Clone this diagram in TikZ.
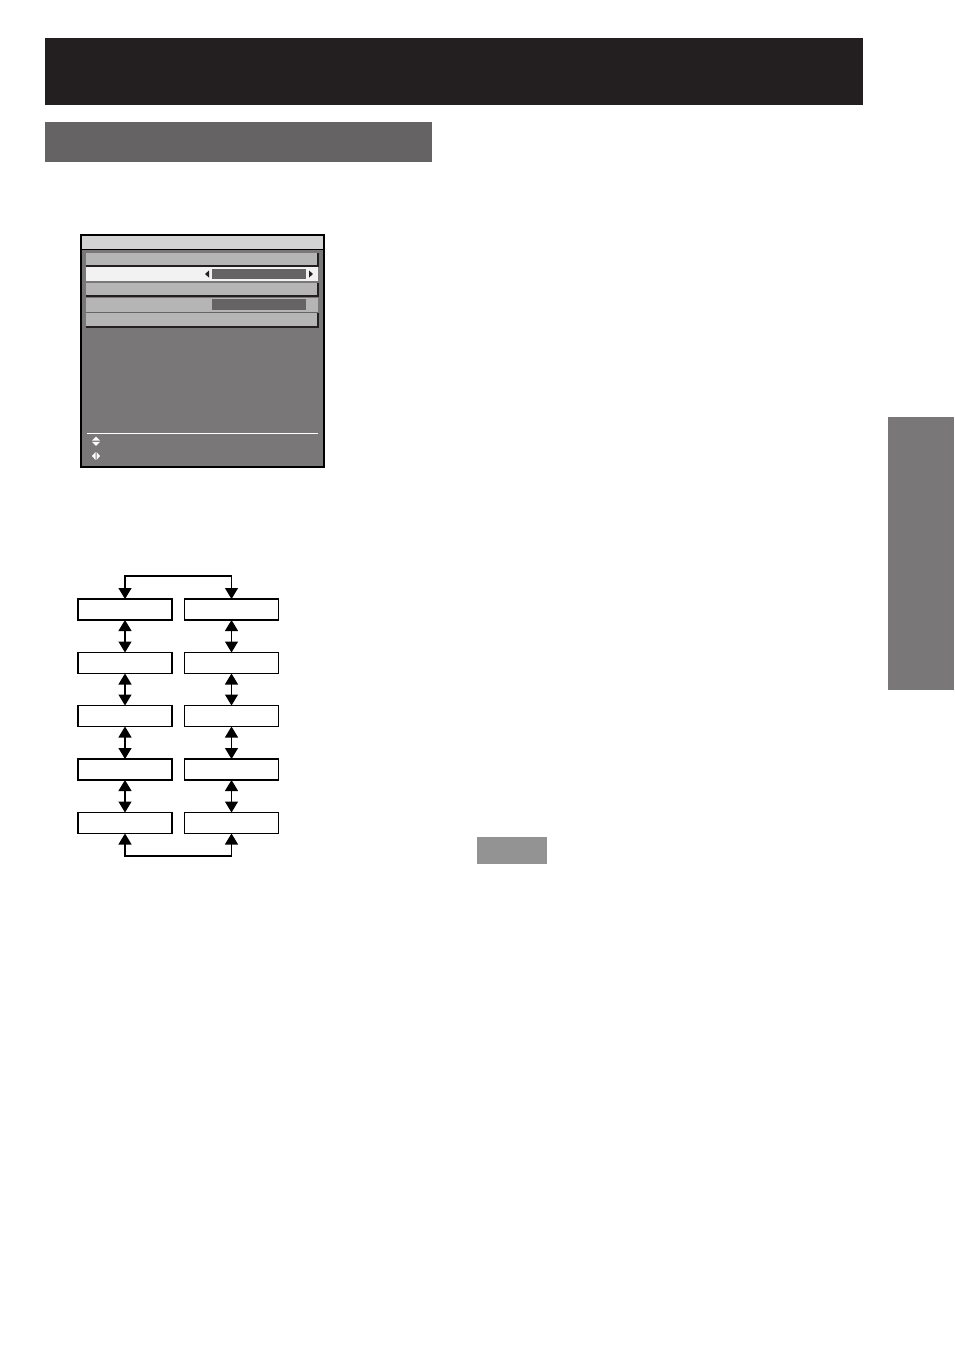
\documentclass[tikz,border=0pt]{standalone}
\usetikzlibrary{arrows.meta}
\definecolor{hdrblack}{HTML}{231F20}
\definecolor{secgray}{HTML}{656364}
\definecolor{tabgray}{HTML}{7A7778}
\definecolor{notegray}{HTML}{939393}
\definecolor{titlegray}{HTML}{D3D3D3}
\definecolor{rowgray}{HTML}{B5B5B5}
\definecolor{selwhite}{HTML}{F2F2F2}
\tikzset{
  x=1pt, y=-1pt,
  fbox/.style={draw=black, line width=1.6pt, fill=white, minimum width=94pt, minimum height=21pt, inner sep=0pt, outer sep=0pt},
  dblarrow/.style={line width=1.2pt, {Triangle[width=13pt,length=11pt]}-{Triangle[width=13pt,length=11pt]}},
  rowbox/.style={fill=rowgray},
  shadow/.style={draw=hdrblack, line width=1.2pt},
}
\begin{document}
\begin{tikzpicture}
\useasboundingbox (0,0) rectangle (954,1350);
\fill[white] (0,0) rectangle (954,1350);
% header bars
\fill[hdrblack] (45,38) rectangle (863,105);
\fill[secgray] (45,122) rectangle (432,162);
\fill[tabgray] (888,417) rectangle (954,690);
\fill[notegray] (477,837) rectangle (547,864);
% menu screen
\fill[tabgray] (81,235) rectangle (324,467);
\fill[titlegray] (81,235) rectangle (324,249);
\draw[line width=0.8pt] (81,249) -- (324,249);
\draw[line width=1.6pt] (81,235) rectangle (324,467);
% rows
\fill[rowgray] (86,253) rectangle (318,266);
\draw[shadow] (318,253) -- (318,266) -- (86,266);
\fill[selwhite] (86,267) rectangle (318,281);
\fill[secgray] (212,269) rectangle (306,279);
\fill[hdrblack] (205,274) -- (209,270.5) -- (209,277.5) -- cycle;
\fill[hdrblack] (313,274) -- (309,270.5) -- (309,277.5) -- cycle;
\fill[rowgray] (86,283) rectangle (318,296);
\draw[shadow] (318,283) -- (318,296) -- (86,296);
\fill[rowgray] (86,298) rectangle (318,312);
\fill[secgray] (212,299) rectangle (306,310);
\draw[line width=0.8pt, color=secgray] (86,312) -- (318,312);
\fill[rowgray] (86,313) rectangle (318,327);
\draw[shadow] (318,313) -- (318,327) -- (86,327);
% footer line and icons
\draw[white, line width=0.8pt] (87,433) -- (318,433);
\fill[white] (96,436.5) -- (92,440.5) -- (100,440.5) -- cycle;
\fill[white] (92,441.8) -- (100,441.8) -- (96,445.8) -- cycle;
\fill[white] (92,456) -- (95.6,452) -- (95.6,460) -- cycle;
\fill[white] (100,456) -- (96.6,452) -- (96.6,460) -- cycle;
% flowchart
\node[fbox] (L1) at (125,609.5) {};
\node[fbox] (L2) at (125,663) {};
\node[fbox] (L3) at (125,716) {};
\node[fbox] (L4) at (125,769.5) {};
\node[fbox] (L5) at (125,823) {};
\node[fbox] (R1) at (231.5,609.5) {};
\node[fbox] (R2) at (231.5,663) {};
\node[fbox] (R3) at (231.5,716) {};
\node[fbox] (R4) at (231.5,769.5) {};
\node[fbox] (R5) at (231.5,823) {};
\coordinate (TL) at (125,576);
\coordinate (TR) at (231.5,576);
\coordinate (BL) at (125,856);
\coordinate (BR) at (231.5,856);
\foreach \c in {L,R}{
  \draw[dblarrow] (\c1.south) -- (\c2.north);
  \draw[dblarrow] (\c2.south) -- (\c3.north);
  \draw[dblarrow] (\c3.south) -- (\c4.north);
  \draw[dblarrow] (\c4.south) -- (\c5.north);
}
\draw[dblarrow] (L1.north) -- (TL) -- (TR) -- (R1.north);
\draw[dblarrow] (L5.south) -- (BL) -- (BR) -- (R5.south);
\end{tikzpicture}
\end{document}
